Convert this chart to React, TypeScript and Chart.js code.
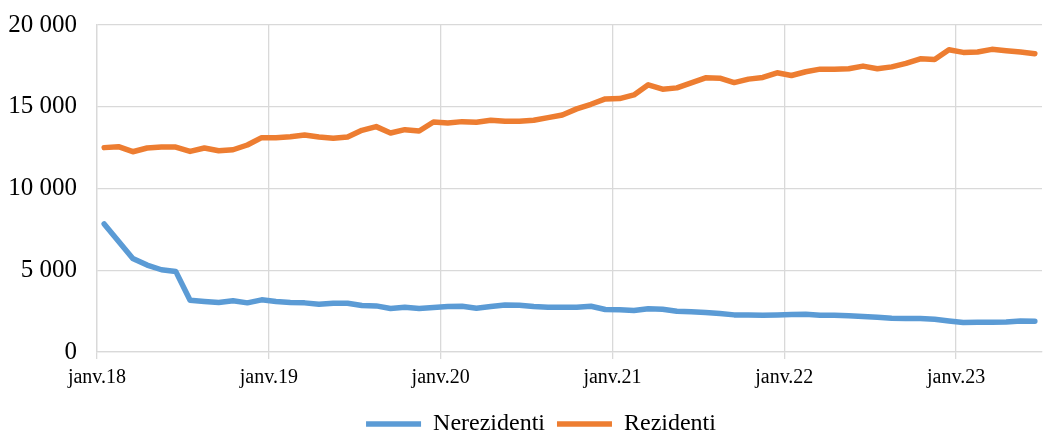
import React, { useEffect, useRef } from 'react';
import { Chart, registerables } from 'chart.js';

Chart.register(...registerables);

const monthNames = ['janv.', 'févr.', 'mars', 'avr.', 'mai', 'juin', 'juil.', 'août', 'sept.', 'oct.', 'nov.', 'déc.'];
const years = ['18', '19', '20', '21', '22', '23'];
const monthsInLastYear = 6;

const categories: string[] = [];
years.forEach((y, yi) => {
  const n = yi === years.length - 1 ? monthsInLastYear : 12;
  for (let m = 0; m < n; m++) categories.push(monthNames[m] + y);
});

const nerezidenti = [
  7830, 6770, 5725, 5315, 5030, 4930, 3170, 3090, 3025, 3130, 3005, 3190,
  3090, 3025, 3005, 2925, 2985, 2985, 2840, 2820, 2660, 2740, 2660, 2720,
  2780, 2800, 2680, 2780, 2880, 2860, 2780, 2740, 2740, 2740, 2800, 2600,
  2580, 2535, 2640, 2620, 2495, 2455, 2415, 2350, 2270, 2270, 2250, 2270,
  2290, 2310, 2250, 2250, 2210, 2170, 2125, 2065, 2045, 2045, 2005, 1900,
  1800, 1820, 1820, 1840, 1900, 1880,
];

const rezidenti = [
  12500, 12560, 12250, 12475, 12535, 12535, 12270, 12475, 12310, 12370, 12660, 13110,
  13110, 13170, 13270, 13150, 13070, 13150, 13560, 13785, 13395, 13600, 13515, 14070,
  14010, 14090, 14050, 14170, 14110, 14110, 14170, 14335, 14500, 14870, 15150, 15480,
  15500, 15725, 16340, 16075, 16155, 16460, 16770, 16750, 16480, 16690, 16790, 17075,
  16910, 17140, 17300, 17300, 17320, 17485, 17320, 17440, 17650, 17935, 17895, 18485,
  18325, 18345, 18510, 18425, 18345, 18240,
];

const yMin = 0;
const yMax = 20000;
const yStep = 5000;

const xTickIndices = categories
  .map((c, i) => (c.startsWith('janv.') ? i : -1))
  .filter((i) => i >= 0);

const fmt = (v: number) => {
  const s = Math.round(v).toString();
  return s.replace(/\B(?=(\d{3})+(?!\d))/g, ' ');
};

const FONT = 'Liberation Serif, Times New Roman, serif';
const GRID = '#D9D9D9';

const legendShift = {
  id: 'legendShift',
  afterLayout(chart: any) {
    const lg = chart.legend;
    if (lg) {
      lg.left += 20;
      lg.right += 20;
      lg.top += 12;
      lg.bottom += 12;
    }
  },
};

export default function App() {
  const ref = useRef<HTMLCanvasElement | null>(null);

  useEffect(() => {
    if (!ref.current) return;
    const chart = new Chart(ref.current, {
      type: 'line',
      data: {
        datasets: [
          {
            label: 'Nerezidenti',
            data: nerezidenti.map((v, i) => ({ x: i + 0.5, y: v })),
            borderColor: '#5B9BD5',
            backgroundColor: '#5B9BD5',
            borderWidth: 5.5,
            pointRadius: 0,
            tension: 0,
            borderCapStyle: 'round',
            borderJoinStyle: 'round',
          },
          {
            label: 'Rezidenti',
            data: rezidenti.map((v, i) => ({ x: i + 0.5, y: v })),
            borderColor: '#ED7D31',
            backgroundColor: '#ED7D31',
            borderWidth: 5.5,
            pointRadius: 0,
            tension: 0,
            borderCapStyle: 'round',
            borderJoinStyle: 'round',
          },
        ],
      },
      options: {
        animation: false,
        responsive: true,
        maintainAspectRatio: false,
        layout: { padding: { top: 25, right: 1, left: 0, bottom: 0 } },
        font: { family: FONT, size: 20 },
        scales: {
          x: {
            type: 'linear',
            min: 0,
            max: categories.length,
            afterBuildTicks: (scale: any) => {
              scale.ticks = xTickIndices.map((v) => ({ value: v }));
            },
            afterFit: (scale: any) => {
              scale.height = 36;
              scale.paddingLeft = 0;
              scale.paddingRight = 0;
            },
            ticks: {
              autoSkip: false,
              maxRotation: 0,
              padding: 7,
              color: '#000',
              font: { family: FONT, size: 20 },
              callback: (v: any) => categories[v as number] ?? '',
            },
            grid: { color: GRID, lineWidth: 1.3, tickLength: 7, drawTicks: true },
            border: { display: true, color: GRID, width: 1.3 },
          },
          y: {
            min: yMin,
            max: yMax,
            afterFit: (scale: any) => {
              scale.width = 97;
              scale.paddingTop = 0;
              scale.paddingBottom = 0;
            },
            ticks: {
              stepSize: yStep,
              padding: 20,
              color: '#000',
              font: { family: FONT, size: 25 },
              callback: (v: any) => fmt(Number(v)),
            },
            grid: { color: GRID, lineWidth: 1.3, drawTicks: false },
            border: { display: true, color: GRID, width: 1.3 },
          },
        },
        plugins: {
          legend: {
            position: 'bottom',
            labels: {
              usePointStyle: true,
              pointStyle: 'line',
              pointStyleWidth: 55,
              boxHeight: 24,
              padding: 12,
              color: '#000',
              font: { family: FONT, size: 24 },
            },
          },
          tooltip: { enabled: false },
        },
      } as any,
      plugins: [legendShift],
    });
    return () => chart.destroy();
  }, []);

  return (
    <div style={{ position: 'absolute', left: 0, top: 0, width: 1043, height: 434 }}>
      <canvas ref={ref} />
    </div>
  );
}
